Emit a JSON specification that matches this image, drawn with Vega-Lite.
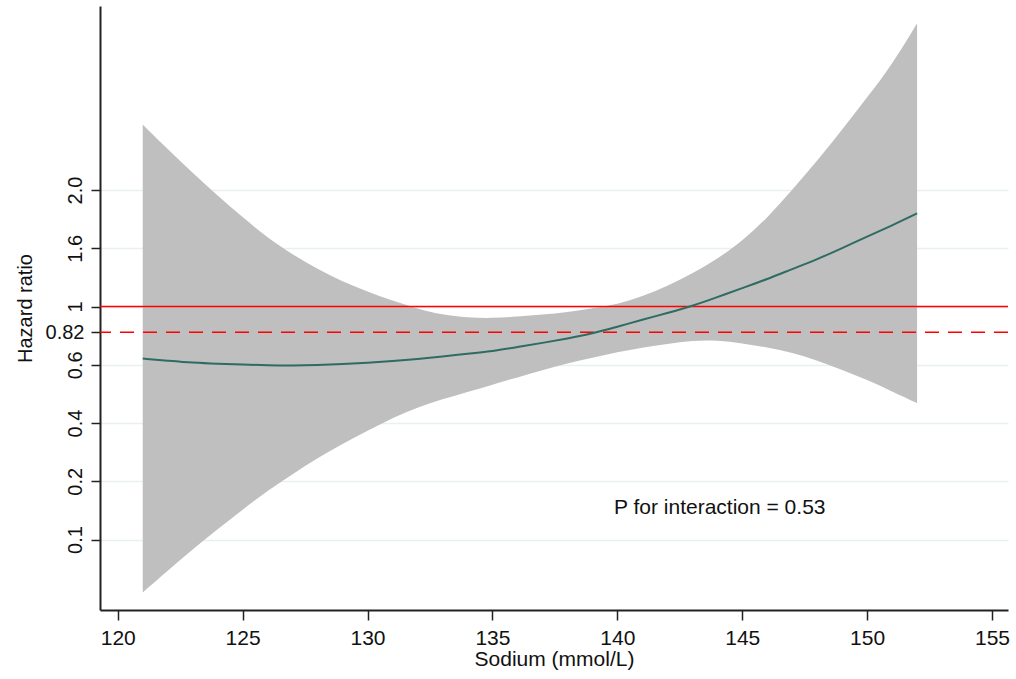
{
  "$schema": "https://vega.github.io/schema/vega-lite/v6.json",
  "width": 908,
  "height": 604,
  "autosize": {"type": "none"},
  "padding": {"left": 100, "top": 6, "right": 8, "bottom": 69},
  "background": "white",
  "config": {
    "font": "Liberation Sans",
    "view": {"stroke": null},
    "axis": {"titleFontWeight": "normal", "labelColor": "#111", "titleColor": "#111"}
  },
  "datasets": {
    "curve": [
      {"sodium": 121, "upper": 8.123, "lower": 0.092, "hr": 4.107},
      {"sodium": 122, "upper": 7.702, "lower": 0.464, "hr": 4.071},
      {"sodium": 123, "upper": 7.295, "lower": 0.835, "hr": 4.034},
      {"sodium": 124, "upper": 6.901, "lower": 1.175, "hr": 4.016},
      {"sodium": 125, "upper": 6.533, "lower": 1.513, "hr": 4.004},
      {"sodium": 126, "upper": 6.178, "lower": 1.839, "hr": 3.991},
      {"sodium": 127, "upper": 5.893, "lower": 2.121, "hr": 3.985},
      {"sodium": 128, "upper": 5.642, "lower": 2.403, "hr": 3.995},
      {"sodium": 129, "upper": 5.427, "lower": 2.641, "hr": 4.012},
      {"sodium": 130, "upper": 5.256, "lower": 2.868, "hr": 4.035},
      {"sodium": 131, "upper": 5.098, "lower": 3.091, "hr": 4.062},
      {"sodium": 132, "upper": 4.962, "lower": 3.271, "hr": 4.097},
      {"sodium": 133, "upper": 4.855, "lower": 3.409, "hr": 4.142},
      {"sodium": 134, "upper": 4.810, "lower": 3.534, "hr": 4.188},
      {"sodium": 135, "upper": 4.799, "lower": 3.659, "hr": 4.234},
      {"sodium": 136, "upper": 4.825, "lower": 3.783, "hr": 4.305},
      {"sodium": 137, "upper": 4.860, "lower": 3.908, "hr": 4.375},
      {"sodium": 138, "upper": 4.902, "lower": 4.025, "hr": 4.451},
      {"sodium": 139, "upper": 4.967, "lower": 4.121, "hr": 4.536},
      {"sodium": 140, "upper": 5.040, "lower": 4.217, "hr": 4.653},
      {"sodium": 141, "upper": 5.170, "lower": 4.293, "hr": 4.772},
      {"sodium": 142, "upper": 5.355, "lower": 4.358, "hr": 4.888},
      {"sodium": 143, "upper": 5.561, "lower": 4.415, "hr": 5.007},
      {"sodium": 144, "upper": 5.817, "lower": 4.420, "hr": 5.161},
      {"sodium": 145, "upper": 6.123, "lower": 4.370, "hr": 5.316},
      {"sodium": 146, "upper": 6.521, "lower": 4.300, "hr": 5.469},
      {"sodium": 147, "upper": 7.000, "lower": 4.210, "hr": 5.644},
      {"sodium": 148, "upper": 7.503, "lower": 4.075, "hr": 5.810},
      {"sodium": 149, "upper": 8.035, "lower": 3.913, "hr": 6.003},
      {"sodium": 150, "upper": 8.590, "lower": 3.743, "hr": 6.200},
      {"sodium": 151, "upper": 9.153, "lower": 3.542, "hr": 6.392},
      {"sodium": 152, "upper": 9.862, "lower": 3.342, "hr": 6.598}
    ],
    "refs": [
      {"name": "reference", "level": 5.0},
      {"name": "overall", "level": 4.557}
    ],
    "note": [
      {"sodium": 144.1, "level": 1.54, "label": "P for interaction = 0.53"}
    ]
  },
  "resolve": {"axis": {"y": "independent"}},
  "layer": [
    {
      "data": {"name": "curve"},
      "mark": {"type": "area", "color": "#bfbfbf", "opacity": 1, "interpolate": "basis"},
      "encoding": {
        "x": {
          "field": "sodium", "type": "quantitative",
          "scale": {"domain": [119.29, 155.64], "nice": false, "zero": false},
          "axis": {
            "values": [120, 125, 130, 135, 140, 145, 150, 155],
            "title": "Sodium (mmol/L)",
            "titleFontSize": 21,
            "titlePadding": 0,
            "labelFontSize": 21,
            "labelPadding": 7,
            "tickSize": 10,
            "tickColor": "#222",
            "tickWidth": 1.5,
            "domainColor": "#222",
            "domainWidth": 2,
            "grid": false,
            "labelFlush": false,
            "labelOverlap": false
          }
        },
        "y": {
          "field": "upper", "type": "quantitative",
          "scale": {"domain": [-0.21, 10.159], "nice": false, "zero": false},
          "axis": {
            "orient": "left",
            "values": [1, 2, 3, 4, 5, 6, 7],
            "labelExpr": "['','0.1','0.2','0.4','0.6','1','1.6','2.0'][datum.value]",
            "labelAngle": -90,
            "labelAlign": "center",
            "labelBaseline": "bottom",
            "labelFontSize": 20,
            "labelPadding": 6,
            "labelOverlap": false,
            "labelFlush": false,
            "tickSize": 9,
            "tickColor": "#222",
            "tickWidth": 1.5,
            "domainColor": "#222",
            "domainWidth": 2,
            "grid": true,
            "gridColor": "#e8f0f2",
            "gridWidth": 1.5,
            "title": "Hazard ratio",
            "titleFontSize": 20,
            "titlePadding": 30
          }
        },
        "y2": {"field": "lower"}
      }
    },
    {
      "data": {"name": "refs"},
      "transform": [{"filter": "datum.name === 'reference'"}],
      "mark": {"type": "rule", "color": "#ff0000", "strokeWidth": 1.5},
      "encoding": {
        "y": {"field": "level", "type": "quantitative", "axis": null}
      }
    },
    {
      "data": {"name": "refs"},
      "transform": [{"filter": "datum.name === 'overall'"}],
      "mark": {"type": "rule", "color": "#ff0000", "strokeWidth": 1.5, "strokeDash": [14, 9]},
      "encoding": {
        "y": {
          "field": "level", "type": "quantitative",
          "axis": {
            "orient": "left",
            "values": [4.557],
            "labelExpr": "'0.82'",
            "labelAngle": 0,
            "labelAlign": "right",
            "labelBaseline": "middle",
            "labelFontSize": 20,
            "labelPadding": 7,
            "tickSize": 9,
            "tickColor": "#222",
            "tickWidth": 1.5,
            "domain": false,
            "grid": false,
            "title": null
          }
        }
      }
    },
    {
      "data": {"name": "curve"},
      "mark": {"type": "line", "color": "#2e6b62", "strokeWidth": 2, "interpolate": "basis"},
      "encoding": {
        "x": {"field": "sodium", "type": "quantitative"},
        "y": {"field": "hr", "type": "quantitative", "axis": null}
      }
    },
    {
      "data": {"name": "note"},
      "mark": {"type": "text", "fontSize": 21, "align": "center", "baseline": "middle", "color": "#111"},
      "encoding": {
        "x": {"field": "sodium", "type": "quantitative"},
        "y": {"field": "level", "type": "quantitative", "axis": null},
        "text": {"field": "label"}
      }
    }
  ]
}
